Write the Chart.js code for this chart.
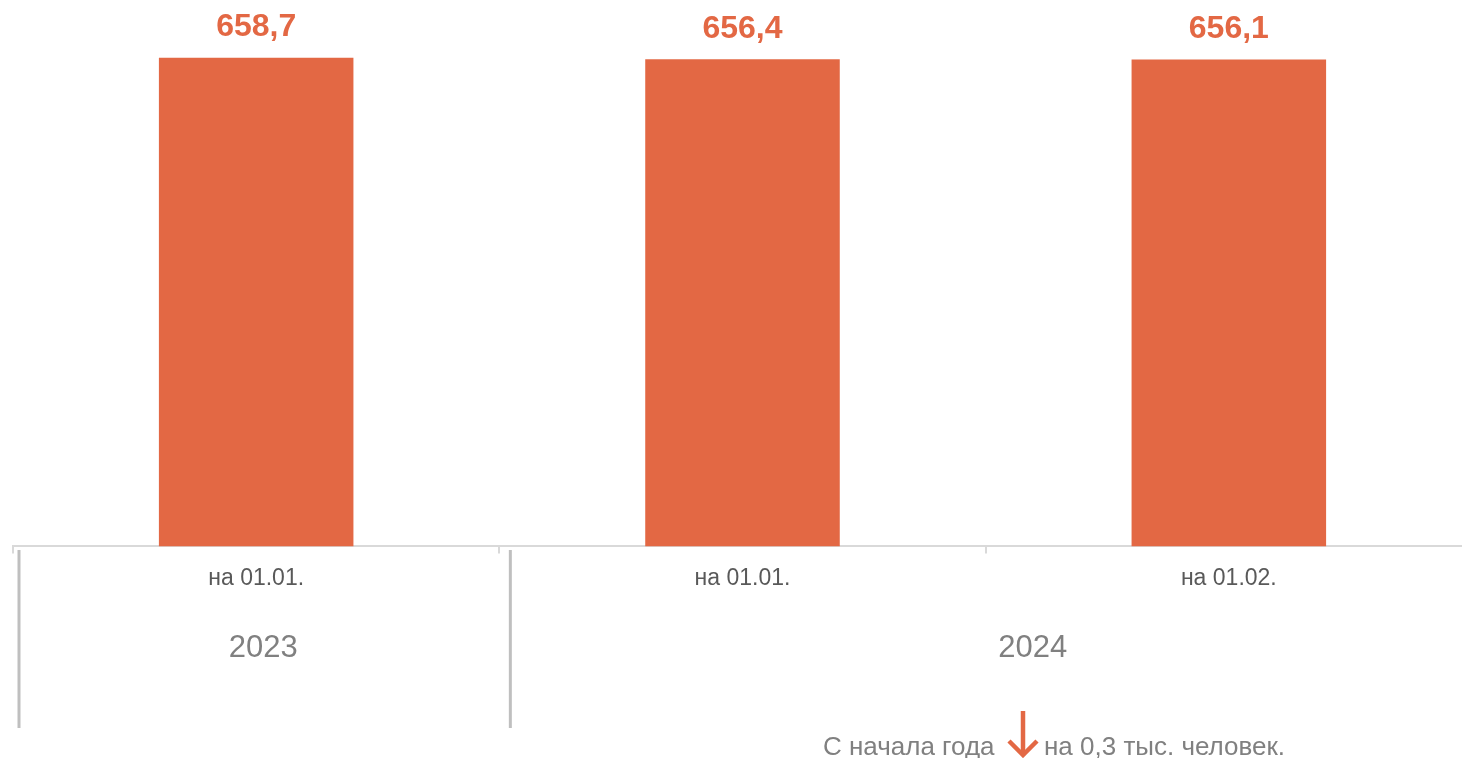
<!DOCTYPE html>
<html>
<head>
    <title>Численность</title>
    <script src="https://cdn.jsdelivr.net/npm/chart.js"></script>
    <style>
        html, body { margin: 0; padding: 0; background: #fff; overflow: hidden; }
        body { width: 1462px; height: 758px; position: relative; font-family: "Liberation Sans", Arial, sans-serif; }
        .chart-box { position: absolute; left: 0; top: 0; width: 1472px; height: 758px; }
        .note { position: absolute; top: 731px; font-size: 26px; line-height: 30px; color: #808080; white-space: nowrap; }
        .arrow { position: absolute; left: 1007px; top: 710px; }
    </style>
</head>
<body>
    <div class="chart-box">
        <canvas id="chart"></canvas>
    </div>
    <div class="note" style="left: 823px;">С начала года</div>
    <svg class="arrow" width="32" height="48" viewBox="0 0 32 48">
        <line x1="16" y1="1" x2="16" y2="44" stroke="#e36844" stroke-width="4.5"/>
        <polyline points="2,31 16,45 30,31" fill="none" stroke="#e36844" stroke-width="4.5"/>
    </svg>
    <div class="note" style="left: 1044px;">на 0,3 тыс. человек.</div>

    <script>
        // данные
        const categories = ['на 01.01.', 'на 01.01.', 'на 01.02.'];
        const values = [658.7, 656.4, 656.1];
        const years = ['2023', '2024'];
        const yearFirst = [0, 1];   // первая категория группы
        const yearLast = [0, 2];    // последняя категория группы

        const barColor = '#e36844';

        // подписи значений над столбцами
        const valueLabels = {
            id: 'valueLabels',
            afterDatasetsDraw(chart) {
                const ctx = chart.ctx;
                const meta = chart.getDatasetMeta(0);
                ctx.save();
                ctx.font = 'bold 32px "Liberation Sans", Arial, sans-serif';
                ctx.fillStyle = barColor;
                ctx.textAlign = 'center';
                ctx.textBaseline = 'bottom';
                meta.data.forEach((bar, i) => {
                    ctx.fillText(values[i].toFixed(1).replace('.', ','), bar.x, bar.y - 14);
                });
                ctx.restore();
            }
        };

        // годы и разделители под осью
        const yearRow = {
            id: 'yearRow',
            afterDraw(chart) {
                const ctx = chart.ctx;
                const x = chart.scales.x;
                const half = (x.getPixelForValue(1) - x.getPixelForValue(0)) / 2;
                ctx.save();
                ctx.strokeStyle = '#bfbfbf';
                ctx.lineWidth = 3;
                ctx.font = '31px "Liberation Sans", Arial, sans-serif';
                ctx.fillStyle = '#808080';
                ctx.textAlign = 'center';
                ctx.textBaseline = 'middle';
                years.forEach((y, i) => {
                    const left = x.getPixelForValue(yearFirst[i]) - half;
                    const right = x.getPixelForValue(yearLast[i]) + half;
                    const sep = left + (i === 0 ? 6 : 11);
                    ctx.beginPath();
                    ctx.moveTo(sep, 550);
                    ctx.lineTo(sep, 728);
                    ctx.stroke();
                    ctx.fillText(y, (left + right) / 2 + (i === 0 ? 7 : 47), 648);
                });
                ctx.restore();
            }
        };

        const ctx = document.getElementById('chart').getContext('2d');
        new Chart(ctx, {
            type: 'bar',
            data: {
                labels: categories,
                datasets: [{
                    data: values,
                    backgroundColor: barColor,
                    barPercentage: 0.4,
                    categoryPercentage: 1
                }]
            },
            options: {
                responsive: true,
                maintainAspectRatio: false,
                animation: false,
                layout: { padding: { left: 13, right: 0, top: 27, bottom: 155 } },
                scales: {
                    x: {
                        grid: { drawOnChartArea: false, drawTicks: true, tickLength: 7, color: '#d9d9d9', lineWidth: 2 },
                        border: { display: true, color: '#d9d9d9', width: 2 },
                        ticks: {
                            color: '#595959',
                            padding: 11,
                            font: { family: '"Liberation Sans", Arial, sans-serif', size: 23 }
                        }
                    },
                    y: {
                        display: false,
                        min: 0,
                        max: 700
                    }
                },
                plugins: {
                    legend: { display: false },
                    tooltip: { enabled: false }
                }
            },
            plugins: [valueLabels, yearRow]
        });
    </script>
</body>
</html>
